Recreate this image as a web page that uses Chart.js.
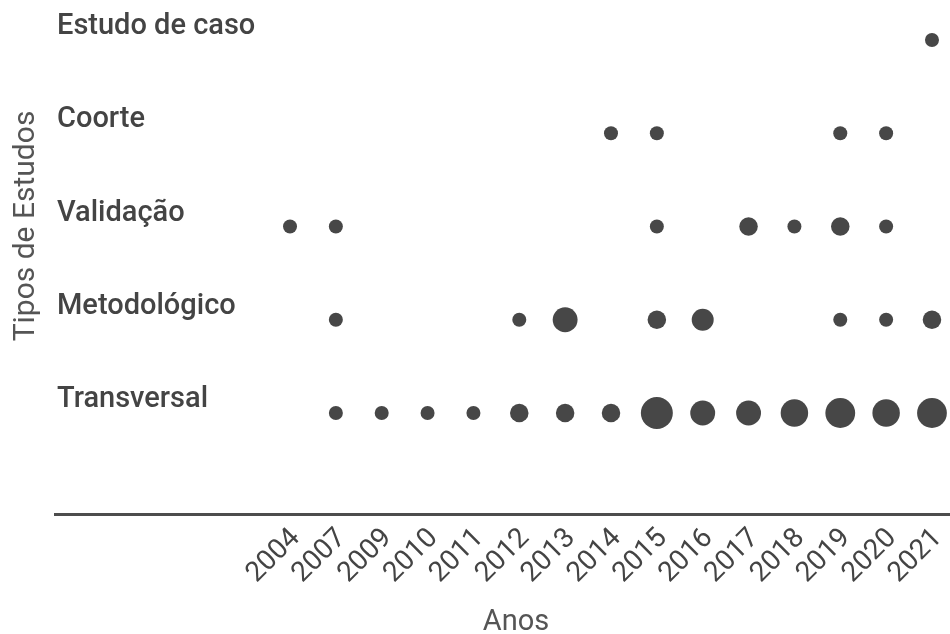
<!DOCTYPE html>
<html lang="pt">

<head>
    <meta charset="UTF-8">
    <title>Tipos de Estudos por Ano</title>
    <script src="https://cdn.jsdelivr.net/npm/chart.js"></script>
    <style>
        body { margin: 0; background: #fff; }
        #wrap { width: 950px; height: 634px; position: relative; }
    </style>
</head>

<body>
    <div id="wrap">
        <canvas id="myChart"></canvas>
    </div>

    <script>
        // anos no eixo x
        const years = ['2004', '2007', '2009', '2010', '2011', '2012', '2013', '2014', '2015', '2016', '2017', '2018', '2019', '2020', '2021'];
        // tipos de estudo, de baixo para cima
        const categories = ['Transversal', 'Metodológico', 'Validação', 'Coorte', 'Estudo de caso'];
        // numero de estudos por ano (mesma ordem de years)
        const transversal = [0, 1, 1, 1, 1, 2, 2, 2, 7, 4, 4, 5, 6, 5, 6];
        const metodologico = [0, 1, 0, 0, 0, 1, 4, 0, 2, 3, 0, 0, 1, 1, 2];
        const validacao = [1, 1, 0, 0, 0, 0, 0, 0, 1, 0, 2, 1, 2, 1, 0];
        const coorte = [0, 0, 0, 0, 0, 0, 0, 1, 1, 0, 0, 0, 1, 1, 0];
        const estudoCaso = [0, 0, 0, 0, 0, 0, 0, 0, 0, 0, 0, 0, 0, 0, 1];
        const series = [transversal, metodologico, validacao, coorte, estudoCaso];

        const dotColor = '#474747';
        const textColor = '#444';

        function radiusFor(n) {
            return 1.55 + 5.45 * Math.sqrt(n);
        }

        var datasets = [];
        series.forEach((values, row) => {
            var pts = [];
            values.forEach((n, i) => {
                if (n > 0) pts.push({ x: i, y: row, r: radiusFor(n), n: n });
            });
            datasets.push({
                label: categories[row],
                data: pts,
                backgroundColor: dotColor,
                borderWidth: 0,
                hoverBorderWidth: 0
            });
        });

        // rotulos das linhas, titulos dos eixos
        const labelsPlugin = {
            id: 'rowLabels',
            afterDraw(chart) {
                const ctx = chart.ctx;
                const yScale = chart.scales.y;
                ctx.save();
                ctx.fillStyle = textColor;
                ctx.font = '500 29px Roboto';
                ctx.textAlign = 'left';
                ctx.textBaseline = 'alphabetic';
                categories.forEach((c, i) => {
                    ctx.fillText(c, 57, yScale.getPixelForValue(i) - 6);
                });

                ctx.font = '400 29px Roboto';
                ctx.fillStyle = '#555';
                ctx.textAlign = 'center';
                ctx.fillText('Anos', 516, 630);

                ctx.font = '400 30px Roboto';
                ctx.translate(34, 226);
                ctx.rotate(-Math.PI / 2);
                ctx.fillText('Tipos de Estudos', 0, 0);
                ctx.restore();
            }
        };

        const ctx = document.getElementById('myChart');
        new Chart(ctx, {
            type: 'bubble',
            data: { datasets: datasets },
            plugins: [labelsPlugin],
            options: {
                responsive: true,
                maintainAspectRatio: false,
                animation: false,
                layout: { autoPadding: false, padding: { left: 55, right: 0, top: 0, bottom: 0 } },
                plugins: {
                    legend: { display: false },
                    tooltip: { enabled: false }
                },
                scales: {
                    x: {
                        type: 'linear',
                        min: -5.125,
                        max: 14.393,
                        grid: { display: false, drawTicks: false },
                        border: { display: true, color: '#4d4d4d', width: 3 },
                        afterBuildTicks: (scale) => {
                            scale.ticks = years.map((y, i) => ({ value: i }));
                        },
                        afterFit: (scale) => {
                            scale.height = 120;
                            scale.paddingLeft = 0;
                            scale.paddingRight = 0;
                        },
                        ticks: {
                            autoSkip: false,
                            minRotation: 45,
                            maxRotation: 45,
                            padding: 8,
                            labelOffset: 6,
                            color: textColor,
                            font: { family: 'Roboto', size: 28 },
                            callback: (v) => years[v]
                        }
                    },
                    y: {
                        type: 'linear',
                        display: false,
                        min: -1.083,
                        max: 4.429
                    }
                }
            }
        });
    </script>

</body>

</html>
